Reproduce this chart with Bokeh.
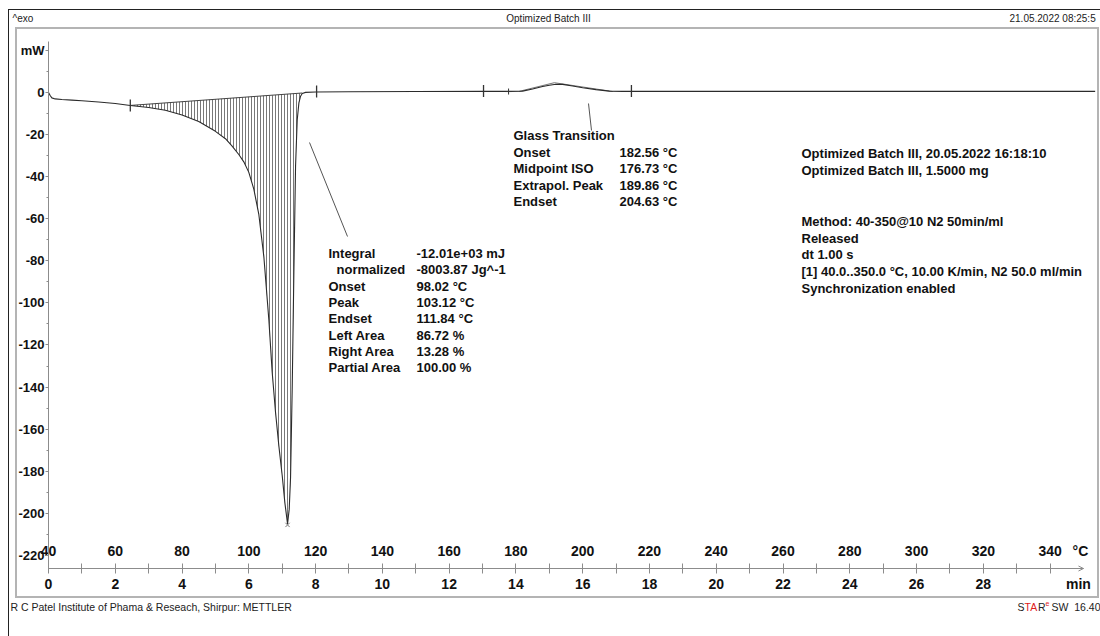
import numpy as np
from bokeh.plotting import figure
from bokeh.models import (Range1d, LinearAxis, FixedTicker, Arrow, OpenHead)
from bokeh.embed import file_html
from bokeh.resources import INLINE
from bokeh.core.properties import value

# ---------------- data ----------------
temp_C = [40, 40.5, 41, 42, 44, 47, 50, 55, 60, 64.5, 70, 75, 80, 85, 90, 93, 95, 97,
          98.5, 100, 101.5, 103, 104.5, 106, 107, 108, 109, 110, 110.8, 111.6, 112.1,
          112.5, 113, 113.5, 114, 114.5, 115, 115.5, 116, 117, 120, 130, 150, 170, 178,
          182, 185, 188, 190, 192, 194, 197, 200, 204, 208, 212, 230, 260, 300, 330, 353.5]
heat_flow_mW = [0, -1.5, -2.6, -3.1, -3.4, -3.7, -4.0, -4.6, -5.3, -6.2, -7.2, -8.5, -10.7,
                -13.8, -18.5, -22, -25.5, -29.5, -33, -38, -46, -58, -78, -108, -133, -152,
                -168, -182, -195, -205, -198, -183, -140, -85, -35, -13, -5, -1.8, -0.5, 0,
                0.2, 0.3, 0.4, 0.5, 0.5, 0.6, 1.6, 2.8, 3.4, 3.9, 3.8, 3.0, 2.2, 1.3, 0.6,
                0.5, 0.5, 0.5, 0.5, 0.5, 0.5]

# integration baseline of the melting peak (start / end)
peak_base_T = [64.5, 116.0]
peak_base_mW = [-6.2, -0.3]

# glass-transition tangent construction
gt_tangent_T = [181.0, 191.5, 209.0]
gt_tangent_mW = [0.5, 4.6, 0.4]

# evaluation limit markers
marker_T = [64.5, 120.3, 170.3, 214.6]
marker_mW = [-6.2, 0.4, 0.6, 0.6]
plus_T = [177.8]
plus_mW = [0.4]
peak_T = [111.6]
peak_mW = [-205.5]

temp_ticks = [40, 60, 80, 100, 120, 140, 160, 180, 200, 220, 240, 260, 280, 300, 320, 340]
temp_unit_at = 349.1
time_ticks = [0, 2, 4, 6, 8, 10, 12, 14, 16, 18, 20, 22, 24, 26, 28]
time_unit_at = 30.85
time_marks = list(range(0, 31))
y_ticks = [20, 0, -20, -40, -60, -80, -100, -120, -140, -160, -180, -200, -220]
y_tick_labels = ["mW", "0", "-20", "-40", "-60", "-80", "-100", "-120", "-140", "-160",
                 "-180", "-200", "-220"]
y_minor = [10, -10, -30, -50, -70, -90, -110, -130, -150, -170, -190, -210]

integral_labels = ["Integral", "normalized", "Onset", "Peak", "Endset", "Left Area",
                   "Right Area", "Partial Area"]
integral_values = ["-12.01e+03 mJ", "-8003.87 Jg^-1", "98.02 °C", "103.12 °C",
                   "111.84 °C", "86.72 %", "13.28 %", "100.00 %"]
gt_labels = ["Onset", "Midpoint ISO", "Extrapol. Peak", "Endset"]
gt_values = ["182.56 °C", "176.73 °C", "189.86 °C", "204.63 °C"]
info_lines = ["Optimized Batch III, 20.05.2022 16:18:10",
              "Optimized Batch III, 1.5000 mg", "", "",
              "Method: 40-350@10 N2 50min/ml", "Released", "dt 1.00 s",
              "[1] 40.0..350.0 °C, 10.00 K/min, N2 50.0 ml/min",
              "Synchronization enabled"]
header_left, header_center, header_right = "^exo", "Optimized Batch III", "21.05.2022 08:25:5"
footer_left = "R C Patel Institute of Phama & Reseach, Shirpur: METTLER"
footer_logo = ["S", "TA", "R", "e", "SW\u00a0\u00a016.40"]

# ---------------- geometry: the frame covers the whole canvas ----------------
W, H = 1100, 636
K_T = (353.6 - 40.0) / 1047.0      # degC per pixel
K_V = 251.8 / 530.0                # mW per pixel
V_AX = -226.2                      # mW value at the time-axis line


def px(x):
    return 40.0 + (x - 48) * K_T


def py(y):
    return V_AX + (568 - y) * K_V


FONT_NAME = "Liberation Sans"
FONT = value(FONT_NAME)

p = figure(width=W, height=H, output_backend="svg", toolbar_location=None,
           x_range=Range1d(px(0), px(W)), y_range=Range1d(py(H), py(0)),
           x_axis_type=None, y_axis_type=None,
           min_border_left=0, min_border_right=0, min_border_top=0, min_border_bottom=0)
p.title.visible = False
p.outline_line_color = None
p.background_fill_color = None
p.border_fill_color = None

# page frame (black outer lines, grey inner box) as CSS background behind the canvas
frame_lines = [("#222222", 8, 9, 1, 627), ("#222222", 8, 9, 1092, 1),
               ("#b4b4b4", 15, 27, 1084, 2), ("#b4b4b4", 15, 596, 1084, 2),
               ("#b4b4b4", 15, 27, 2, 571), ("#b4b4b4", 1097, 27, 2, 571)]
p.styles = {
    "background-color": "white",
    "background-image": ", ".join(f"linear-gradient({c},{c})" for c, *_ in frame_lines),
    "background-position": ", ".join(f"{x}px {y}px" for _, x, y, _w, _h in frame_lines),
    "background-size": ", ".join(f"{w}px {h}px" for *_a, w, h in frame_lines),
    "background-repeat": "no-repeat",
}

p.extra_x_ranges = {"time": Range1d((px(0) - 40) / 10.0, (px(W) - 40) / 10.0)}

AX = "#8c8c8c"
TXT = "#111111"

# ---- y axis (mW), drawn at T = 40 degC
yax = LinearAxis(ticker=FixedTicker(ticks=y_ticks, minor_ticks=y_minor),
                 major_label_overrides=dict(zip(y_ticks, y_tick_labels)),
                 fixed_location=40.0)
yax.bounds = (V_AX, 24.0)
yax.axis_line_color = AX
yax.major_tick_line_color = AX
yax.minor_tick_line_color = AX
yax.major_tick_out = 3
yax.major_tick_in = 0
yax.minor_tick_out = 2
yax.minor_tick_in = 0
yax.major_label_standoff = 1
yax.major_label_text_font = FONT_NAME
yax.major_label_text_font_style = "bold"
yax.major_label_text_font_size = "13px"
yax.major_label_text_color = TXT
p.add_layout(yax, "left")

# ---- temperature labels, just above the time axis line
tempax = LinearAxis(ticker=FixedTicker(ticks=temp_ticks + [temp_unit_at], minor_ticks=[]),
                    major_label_overrides={**{t: str(t) for t in temp_ticks},
                                           temp_unit_at: "°C"},
                    fixed_location=py(540))
tempax.axis_line_color = None
tempax.major_tick_line_color = None
tempax.minor_tick_line_color = None
tempax.major_tick_out = 0
tempax.major_tick_in = 0
tempax.major_label_standoff = 2
tempax.major_label_text_font = FONT_NAME
tempax.major_label_text_font_style = "bold"
tempax.major_label_text_font_size = "14px"
tempax.major_label_text_color = TXT
p.add_layout(tempax, "below")

# ---- time axis (min)
tax = LinearAxis(x_range_name="time",
                 ticker=FixedTicker(ticks=time_ticks + [time_unit_at], minor_ticks=time_marks),
                 major_label_overrides={**{t: str(t) for t in time_ticks},
                                        time_unit_at: "min"},
                 fixed_location=V_AX)
tax.bounds = (0, 31)
tax.axis_line_color = AX
tax.major_tick_line_color = None
tax.minor_tick_line_color = AX
tax.major_tick_out = 5
tax.major_tick_in = 0
tax.minor_tick_out = 5
tax.minor_tick_in = 5
tax.major_label_standoff = 2
tax.major_label_text_font = FONT_NAME
tax.major_label_text_font_style = "bold"
tax.major_label_text_font_size = "14px"
tax.major_label_text_color = TXT
p.add_layout(tax, "below")

p.add_layout(Arrow(x_start=30.6, y_start=V_AX, x_end=31.0, y_end=V_AX, x_range_name="time",
                   line_color=AX, line_width=1,
                   end=OpenHead(size=5, line_color=AX, line_width=1)))

# ---------------- curve, hatching, construction ----------------
T = np.array(temp_C)
V = np.array(heat_flow_mW)
sel = (T >= peak_base_T[0]) & (T <= peak_base_T[1])
seg_T = T[sel]
seg_base = np.interp(seg_T, peak_base_T, peak_base_mW)
p.varea(x=seg_T, y1=seg_base, y2=V[sel], fill_alpha=0,
        hatch_pattern="vertical_line", hatch_color="#555555", hatch_scale=3,
        hatch_weight=0.8)
p.line(peak_base_T, peak_base_mW, line_color="#444444", line_width=1)
p.line(gt_tangent_T, gt_tangent_mW, line_color="#777777", line_width=1)
p.line(temp_C, heat_flow_mW, line_color="#2b2b2b", line_width=1.1)

p.scatter(marker_T, marker_mW, marker="dash", angle=np.pi / 2, size=12,
          line_color="#333333", line_width=1.3)
p.scatter(plus_T, plus_mW, marker="cross", size=6, line_color="#333333")
p.scatter(peak_T, peak_mW, marker="x", size=6, line_color="#777777")

# leader lines
p.segment(x0=[px(309), px(588)], y0=[py(142), py(103)],
          x1=[px(347), px(591)], y1=[py(236), py(130)],
          line_color="#555555", line_width=1)

# ---------------- annotation texts ----------------
ROW = 16.3
txt = dict(text_font=FONT, text_font_style="bold", text_font_size="13px",
           text_baseline="middle", text_color=TXT)
ix = [px(328)] * len(integral_labels)
ix[1] = px(336)
p.text(x=ix, y=[py(253 + i * ROW) for i in range(len(integral_labels))],
       text=integral_labels, **txt)
p.text(x=[px(416)] * len(integral_values),
       y=[py(253 + i * ROW) for i in range(len(integral_values))],
       text=integral_values, **txt)

p.text(x=[px(513)], y=[py(135)], text=["Glass Transition"], **txt)
p.text(x=[px(513)] * len(gt_labels), y=[py(152 + i * ROW) for i in range(len(gt_labels))],
       text=gt_labels, **txt)
p.text(x=[px(619)] * len(gt_values), y=[py(152 + i * ROW) for i in range(len(gt_values))],
       text=gt_values, **txt)

p.text(x=[px(801)] * len(info_lines), y=[py(153 + i * 16.9) for i in range(len(info_lines))],
       text=info_lines, **txt)

# ---------------- header and footer ----------------
small = dict(text_font=FONT, text_font_style="normal", text_baseline="middle")
p.text(x=[px(12)], y=[py(18)], text=[header_left], text_align="left",
       text_font_size="10px", text_color="#222222", **small)
p.text(x=[px(548)], y=[py(18)], text=[header_center], text_align="center",
       text_font_size="10px", text_color="#222222", **small)
p.text(x=[px(1009)], y=[py(18)], text=[header_right], text_align="left",
       text_font_size="10px", text_color="#222222", **small)
p.text(x=[px(10)], y=[py(606)], text=[footer_left], text_align="left",
       text_font_size="10.5px", text_color="#222222", **small)
logo_x = [1017, 1024, 1037.5, 1045, 1051]
logo_y = [606, 606, 606, 603, 606]
logo_c = ["#222222", "#e0201b", "#222222", "#e0201b", "#222222"]
logo_s = ["10.5px", "10.5px", "10.5px", "7px", "10.5px"]
p.text(x=[px(v) for v in logo_x], y=[py(v) for v in logo_y], text=footer_logo,
       text_color=logo_c, text_font_size=logo_s, text_align="left", **small)

open("out.html", "w").write(file_html(p, INLINE))
